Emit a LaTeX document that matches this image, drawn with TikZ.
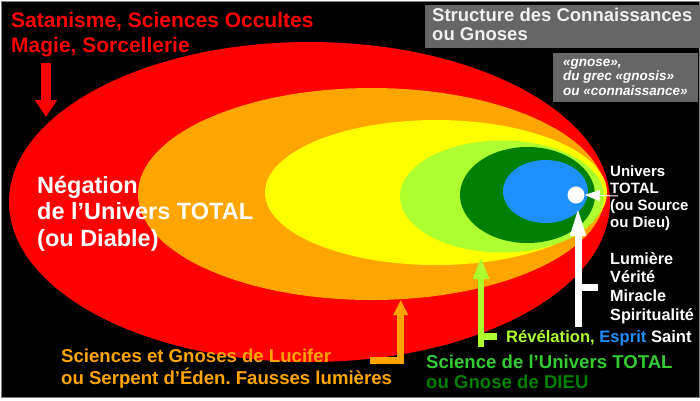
\documentclass[tikz,border=0pt]{standalone}
\usepackage{fontspec}
\setmainfont{Liberation Sans}
\usetikzlibrary{arrows.meta}
\frenchspacing
\definecolor{cRed}{HTML}{FF0000}
\definecolor{cOrange}{HTML}{FFA500}
\definecolor{cYellow}{HTML}{FFFF00}
\definecolor{cLime}{HTML}{ADFF2F}
\definecolor{cDarkGreen}{HTML}{008000}
\definecolor{cBlue}{HTML}{1E90FF}
\definecolor{cGreenText}{HTML}{33CC33}
\definecolor{cBox}{HTML}{666666}
\definecolor{cBoxText}{HTML}{F0F0F0}
\tikzset{
  lbl/.style={inner sep=0pt, anchor=west, align=left, font=\bfseries},
  bigarrow/.style={line width=#1, line join=miter},
}
\begin{document}
\frenchspacing
\begin{tikzpicture}[x=1pt,y=-1pt]
\useasboundingbox (0,0) rectangle (700,400);
\fill[white] (0,0) rectangle (700,400);
\filldraw[fill=black, draw=gray, line width=1pt] (1,1) rectangle (699,397);

% nested ellipses
\fill[cRed] (309.5,202) ellipse [x radius=300.5pt, y radius=160pt];
\fill[cOrange] (371.5,194) ellipse [x radius=233.5pt, y radius=106pt];
\fill[cYellow] (436,192.5) ellipse [x radius=171pt, y radius=72.5pt];
\fill[cLime] (502,196.5) ellipse [x radius=102pt, y radius=56pt];
\fill[cDarkGreen] (527.5,195) ellipse [x radius=67.5pt, y radius=48pt];
\fill[cBlue] (545.5,191.5) ellipse [x radius=42.5pt, y radius=31.5pt];
\node[circle, fill=white, minimum size=17pt, inner sep=0pt] (source) at (576,195) {};

% header boxes
\fill[cBox] (425,5) rectangle (700,48);
\node[lbl, text=cBoxText, font=\bfseries\fontsize{18.5}{18.5}\selectfont] (title) at (432,24.5)
  {Structure des Connaissances\\ou Gnoses};
\fill[cBox] (553,53) rectangle (698,102);
\node[lbl, text=white, font=\bfseries\itshape\fontsize{13.5}{14.5}\selectfont] (gnose) at (563,77)
  {«gnose»,\\du grec «gnosis»\\ou «connaissance»};

% texts
\node[lbl, text=cRed, font=\bfseries\fontsize{21}{25}\selectfont] (satan) at (11,34.5)
  {Satanisme, Sciences Occultes\\Magie, Sorcellerie};
\node[lbl, text=white, font=\bfseries\fontsize{23.5}{26.5}\selectfont] (neg) at (37,213.5)
  {Négation\\de l’Univers TOTAL\\(ou Diable)};
\node[lbl, text=white, font=\bfseries\fontsize{15}{17}\selectfont] (univ) at (610,198)
  {Univers\\TOTAL\\(ou Source\\ou Dieu)};
\node[lbl, text=white, font=\bfseries\fontsize{16.2}{18.7}\selectfont] (lum) at (610,288)
  {Lumière\\Vérité\\Miracle\\Spiritualité};
\node[lbl, font=\bfseries\fontsize{16.6}{18}\selectfont] (rev) at (506,338)
  {\textcolor{cLime}{Révélation,} \textcolor{cBlue}{Esprit} \textcolor{white}{Saint}};
\node[lbl, font=\bfseries\fontsize{18.6}{20.5}\selectfont] (sci) at (426,372)
  {\textcolor{cGreenText}{Science de l’Univers TOTAL}\\\textcolor{cDarkGreen}{ou Gnose de DIEU}};
\node[lbl, text=cOrange, font=\bfseries\fontsize{18.6}{22}\selectfont] (luc) at (61,369)
  {Sciences et Gnoses de Lucifer\\ou Serpent d’Éden. Fausses lumières};

% arrow coordinates
\coordinate (redTop) at (46,63);
\coordinate (redTip) at (46,117);
\coordinate (orTip) at (400.7,300);
\coordinate (orCorner) at (400.7,360.5);
\coordinate (orEnd) at (370,360.5);
\coordinate (lgTip) at (481,257);
\coordinate (lgBot) at (481,347);
\coordinate (lgStub) at (481,336.5);
\coordinate (lgStubEnd) at (497,336.5);
\coordinate (whTip) at (578,206);
\coordinate (whBot) at (578,327);
\coordinate (whStub) at (578,287);
\coordinate (whStubEnd) at (598,287);
\coordinate (thinStart) at (618,196);

% arrows
\draw[cRed, bigarrow=10pt, -{Triangle[length=17pt,width=21pt]}] (redTop) -- (redTip);
\draw[cOrange, bigarrow=6.5pt, -{Triangle[length=15pt,width=14pt]}] (orEnd) -- (orCorner) -- (orTip);
\draw[cLime, bigarrow=6.5pt, -{Triangle[length=22pt,width=15pt]}] (lgBot) -- (lgTip);
\draw[cLime, bigarrow=6.5pt] (lgStub) -- (lgStubEnd);
\draw[white, bigarrow=7pt, -{Triangle[length=30pt,width=14pt]}] (whBot) -- (whTip);
\draw[white, bigarrow=7pt] (whStub) -- (whStubEnd);
\draw[white, line width=1pt, -{Triangle[length=15pt,width=11pt]}] (thinStart) -- (source.east);
\end{tikzpicture}
\end{document}
